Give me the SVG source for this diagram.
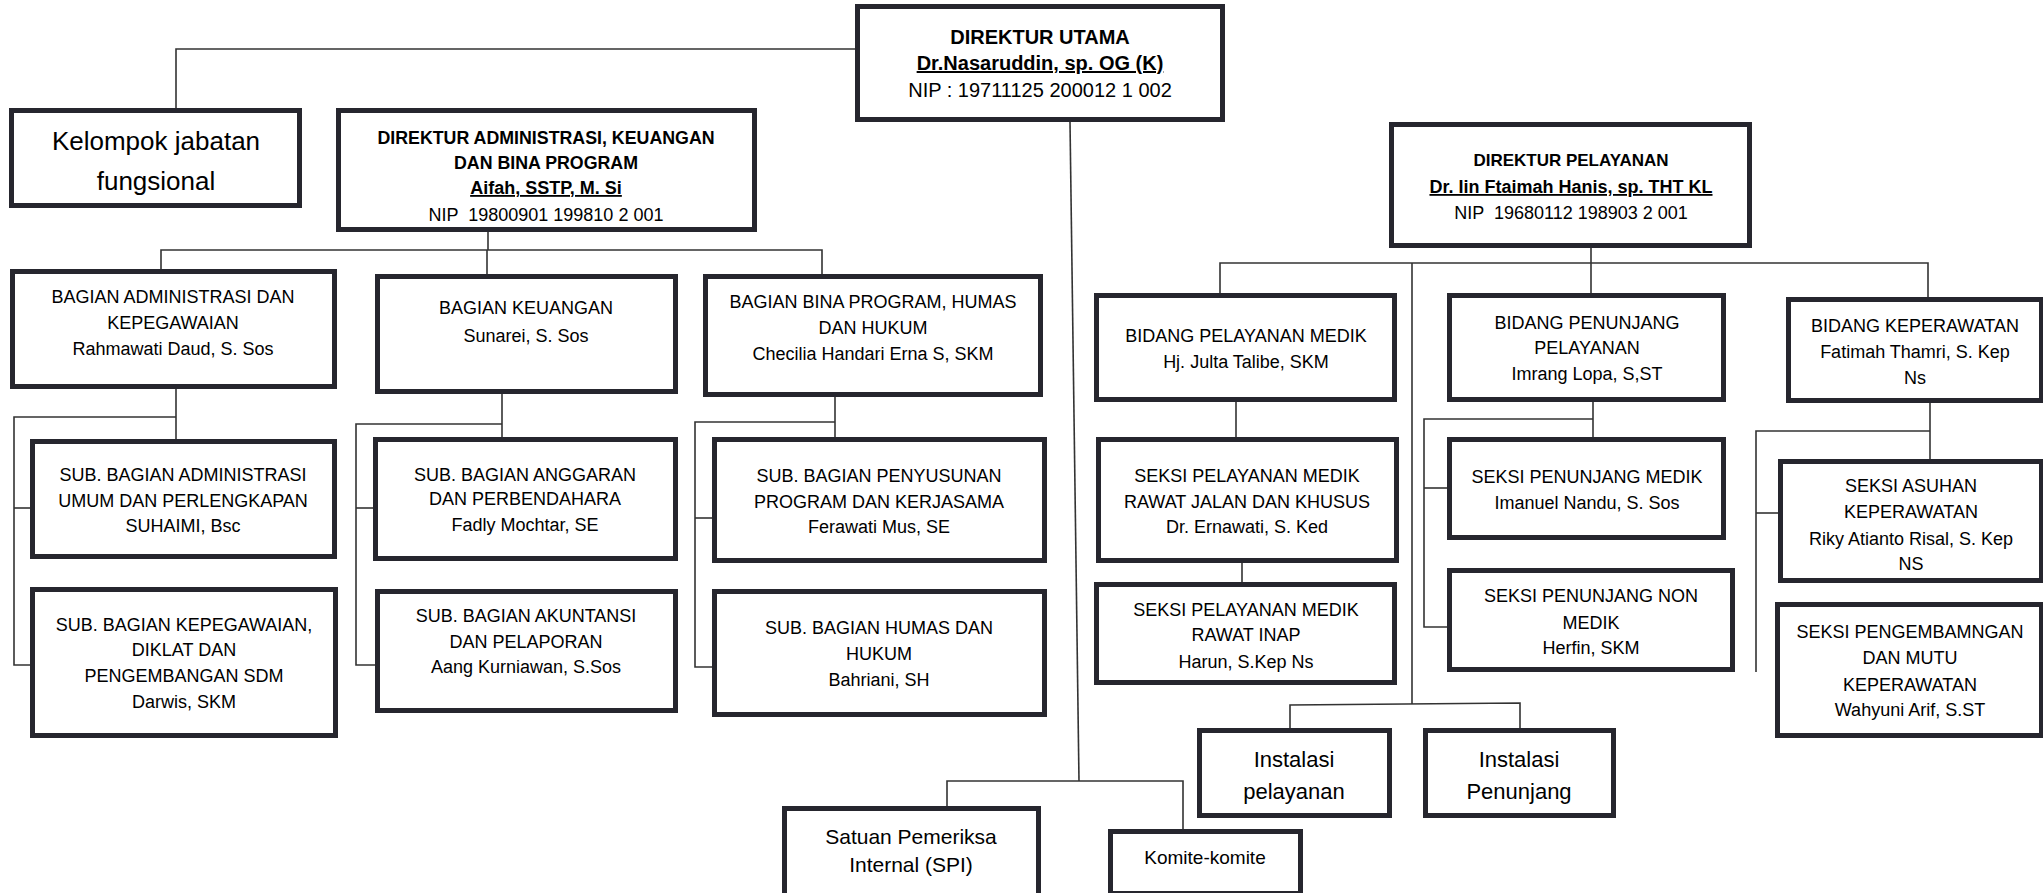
<svg xmlns="http://www.w3.org/2000/svg" width="2043" height="893" viewBox="0 0 2043 893">
<style>
.box{fill:#fff;stroke:#26262e;stroke-width:5}
.ln{fill:none;stroke:#333;stroke-width:1.6}
text{font-family:"Liberation Sans",Arial,sans-serif;fill:#000;text-anchor:middle;white-space:pre}
.t{font-size:18px}
.b{font-size:18px;font-weight:bold}
.u{text-decoration:underline}
.big{font-size:26px}
.mid{font-size:21px}
</style>
<rect width="2043" height="893" fill="#fff"/>
<g id="connectors">
<polyline class="ln" points="855,49 176,49 176,108"/>
<line class="ln" x1="1070" y1="122" x2="1079" y2="781"/>
<polyline class="ln" points="947,806 947,781 1183,781 1183,829"/>
<line class="ln" x1="488" y1="232" x2="488" y2="250"/>
<polyline class="ln" points="161,269 161,250 822,250 822,274"/>
<line class="ln" x1="487" y1="250" x2="487" y2="274"/>
<line class="ln" x1="176" y1="389" x2="176" y2="439"/>
<polyline class="ln" points="176,417 14,417 14,665 30,665"/>
<line class="ln" x1="14" y1="508" x2="30" y2="508"/>
<line class="ln" x1="502" y1="394" x2="502" y2="447"/>
<polyline class="ln" points="502,424 356,424 356,665 375,665"/>
<line class="ln" x1="356" y1="508" x2="373" y2="508"/>
<line class="ln" x1="835" y1="397" x2="835" y2="437"/>
<polyline class="ln" points="835,422 695,422 695,667 712,667"/>
<line class="ln" x1="695" y1="518" x2="712" y2="518"/>
<line class="ln" x1="1591" y1="248" x2="1591" y2="293"/>
<polyline class="ln" points="1220,293 1220,263 1928,263 1928,297"/>
<line class="ln" x1="1412" y1="263" x2="1412" y2="704"/>
<polyline class="ln" points="1290,728 1290,705 1520,703 1520,728"/>
<line class="ln" x1="1236" y1="402" x2="1236" y2="437"/>
<line class="ln" x1="1242" y1="563" x2="1242" y2="582"/>
<line class="ln" x1="1593" y1="399" x2="1593" y2="437"/>
<polyline class="ln" points="1593,419 1424,419 1424,627 1447,627"/>
<line class="ln" x1="1424" y1="488" x2="1447" y2="488"/>
<line class="ln" x1="1930" y1="403" x2="1930" y2="459"/>
<polyline class="ln" points="1930,431 1756,431 1756,672"/>
<line class="ln" x1="1756" y1="513" x2="1778" y2="513"/>
</g>
<g id="direktur-utama">
<rect class="box" x="857.5" y="6.5" width="365" height="113"/>
<text x="1040" y="44" style="font-size:20px;font-weight:bold">DIREKTUR UTAMA</text>
<text x="1040" y="70" class="u" style="font-size:20px;font-weight:bold">Dr.Nasaruddin, sp. OG (K)</text>
<text x="1040" y="97" style="font-size:20px">NIP : 19711125 200012 1 002</text>
</g>
<g id="kelompok">
<rect class="box" x="11.5" y="110.5" width="288" height="95"/>
<text x="156" y="150" class="big">Kelompok jabatan</text>
<text x="156" y="190" class="big">fungsional</text>
</g>
<g id="dir-adm">
<rect class="box" x="338.5" y="110.5" width="416" height="119"/>
<text x="546" y="144" style="font-size:17.8px;font-weight:bold">DIREKTUR ADMINISTRASI, KEUANGAN</text>
<text x="546" y="169" style="font-size:17.8px;font-weight:bold">DAN BINA PROGRAM</text>
<text x="546" y="194" class="b u">Aifah, SSTP, M. Si</text>
<text x="546" y="221" class="t">NIP  19800901 199810 2 001</text>
</g>
<g id="dir-pel">
<rect class="box" x="1391.5" y="124.5" width="358" height="121"/>
<text x="1571" y="166" style="font-size:17px;font-weight:bold">DIREKTUR PELAYANAN</text>
<text x="1571" y="193" class="b u">Dr. Iin Ftaimah Hanis, sp. THT KL</text>
<text x="1571" y="219" class="t">NIP  19680112 198903 2 001</text>
</g>
<g id="bag-adm">
<rect class="box" x="12.5" y="271.5" width="322" height="115"/>
<text x="173" y="303" class="t">BAGIAN ADMINISTRASI DAN</text>
<text x="173" y="329" class="t">KEPEGAWAIAN</text>
<text x="173" y="355" class="t">Rahmawati Daud, S. Sos</text>
</g>
<g id="bag-keu">
<rect class="box" x="377.5" y="276.5" width="298" height="115"/>
<text x="526" y="314" class="t">BAGIAN KEUANGAN</text>
<text x="526" y="342" class="t">Sunarei, S. Sos</text>
</g>
<g id="bag-bina">
<rect class="box" x="705.5" y="276.5" width="335" height="118"/>
<text x="873" y="308" class="t">BAGIAN BINA PROGRAM, HUMAS</text>
<text x="873" y="334" class="t">DAN HUKUM</text>
<text x="873" y="360" class="t">Checilia Handari Erna S, SKM</text>
</g>
<g id="sub-adm-umum">
<rect class="box" x="32.5" y="441.5" width="302" height="115"/>
<text x="183" y="481" class="t">SUB. BAGIAN ADMINISTRASI</text>
<text x="183" y="507" class="t">UMUM DAN PERLENGKAPAN</text>
<text x="183" y="532" class="t">SUHAIMI, Bsc</text>
</g>
<g id="sub-kepeg">
<rect class="box" x="32.5" y="589.5" width="303" height="146"/>
<text x="184" y="631" class="t">SUB. BAGIAN KEPEGAWAIAN,</text>
<text x="184" y="656" class="t">DIKLAT DAN</text>
<text x="184" y="682" class="t">PENGEMBANGAN SDM</text>
<text x="184" y="708" class="t">Darwis, SKM</text>
</g>
<g id="sub-anggaran">
<rect class="box" x="375.5" y="439.5" width="300" height="119"/>
<text x="525" y="481" class="t">SUB. BAGIAN ANGGARAN</text>
<text x="525" y="505" class="t">DAN PERBENDAHARA</text>
<text x="525" y="531" class="t">Fadly Mochtar, SE</text>
</g>
<g id="sub-akuntansi">
<rect class="box" x="377.5" y="591.5" width="298" height="119"/>
<text x="526" y="622" class="t">SUB. BAGIAN AKUNTANSI</text>
<text x="526" y="648" class="t">DAN PELAPORAN</text>
<text x="526" y="673" class="t">Aang Kurniawan, S.Sos</text>
</g>
<g id="sub-penyusunan">
<rect class="box" x="714.5" y="439.5" width="330" height="121"/>
<text x="879" y="482" class="t">SUB. BAGIAN PENYUSUNAN</text>
<text x="879" y="508" class="t">PROGRAM DAN KERJASAMA</text>
<text x="879" y="533" class="t">Ferawati Mus, SE</text>
</g>
<g id="sub-humas">
<rect class="box" x="714.5" y="591.5" width="330" height="123"/>
<text x="879" y="634" class="t">SUB. BAGIAN HUMAS DAN</text>
<text x="879" y="660" class="t">HUKUM</text>
<text x="879" y="686" class="t">Bahriani, SH</text>
</g>
<g id="bid-pel-medik">
<rect class="box" x="1096.5" y="295.5" width="298" height="104"/>
<text x="1246" y="342" class="t">BIDANG PELAYANAN MEDIK</text>
<text x="1246" y="368" class="t">Hj. Julta Talibe, SKM</text>
</g>
<g id="bid-penunjang">
<rect class="box" x="1449.5" y="295.5" width="274" height="104"/>
<text x="1587" y="329" class="t">BIDANG PENUNJANG</text>
<text x="1587" y="354" class="t">PELAYANAN</text>
<text x="1587" y="380" class="t">Imrang Lopa, S,ST</text>
</g>
<g id="bid-keperawatan">
<rect class="box" x="1788.5" y="299.5" width="253" height="101"/>
<text x="1915" y="332" class="t">BIDANG KEPERAWATAN</text>
<text x="1915" y="358" class="t">Fatimah Thamri, S. Kep</text>
<text x="1915" y="384" class="t">Ns</text>
</g>
<g id="seksi-rj">
<rect class="box" x="1098.5" y="439.5" width="298" height="121"/>
<text x="1247" y="482" class="t">SEKSI PELAYANAN MEDIK</text>
<text x="1247" y="508" class="t">RAWAT JALAN DAN KHUSUS</text>
<text x="1247" y="533" class="t">Dr. Ernawati, S. Ked</text>
</g>
<g id="seksi-inap">
<rect class="box" x="1096.5" y="584.5" width="298" height="98"/>
<text x="1246" y="616" class="t">SEKSI PELAYANAN MEDIK</text>
<text x="1246" y="641" class="t">RAWAT INAP</text>
<text x="1246" y="668" class="t">Harun, S.Kep Ns</text>
</g>
<g id="seksi-pen-medik">
<rect class="box" x="1449.5" y="439.5" width="274" height="98"/>
<text x="1587" y="483" class="t">SEKSI PENUNJANG MEDIK</text>
<text x="1587" y="509" class="t">Imanuel Nandu, S. Sos</text>
</g>
<g id="seksi-pen-nonmedik">
<rect class="box" x="1449.5" y="570.5" width="283" height="99"/>
<text x="1591" y="602" class="t">SEKSI PENUNJANG NON</text>
<text x="1591" y="629" class="t">MEDIK</text>
<text x="1591" y="654" class="t">Herfin, SKM</text>
</g>
<g id="seksi-asuhan">
<rect class="box" x="1780.5" y="461.5" width="261" height="119"/>
<text x="1911" y="492" class="t">SEKSI ASUHAN</text>
<text x="1911" y="518" class="t">KEPERAWATAN</text>
<text x="1911" y="545" class="t">Riky Atianto Risal, S. Kep</text>
<text x="1911" y="570" class="t">NS</text>
</g>
<g id="seksi-pengembangan">
<rect class="box" x="1777.5" y="604.5" width="264" height="131"/>
<text x="1910" y="638" class="t">SEKSI PENGEMBAMNGAN</text>
<text x="1910" y="664" class="t">DAN MUTU</text>
<text x="1910" y="691" class="t">KEPERAWATAN</text>
<text x="1910" y="716" class="t">Wahyuni Arif, S.ST</text>
</g>
<g id="instalasi-pelayanan">
<rect class="box" x="1199.5" y="730.5" width="190" height="85"/>
<text x="1294" y="767" style="font-size:22px">Instalasi</text>
<text x="1294" y="799" style="font-size:22px">pelayanan</text>
</g>
<g id="instalasi-penunjang">
<rect class="box" x="1425.5" y="730.5" width="188" height="85"/>
<text x="1519" y="767" style="font-size:22px">Instalasi</text>
<text x="1519" y="799" style="font-size:22px">Penunjang</text>
</g>
<g id="spi">
<rect class="box" x="784.5" y="808.5" width="254" height="92"/>
<text x="911" y="844" class="mid">Satuan Pemeriksa</text>
<text x="911" y="872" class="mid">Internal (SPI)</text>
</g>
<g id="komite">
<rect class="box" x="1110.5" y="831.5" width="190" height="62"/>
<text x="1205" y="864" style="font-size:19px">Komite-komite</text>
</g>
</svg>
